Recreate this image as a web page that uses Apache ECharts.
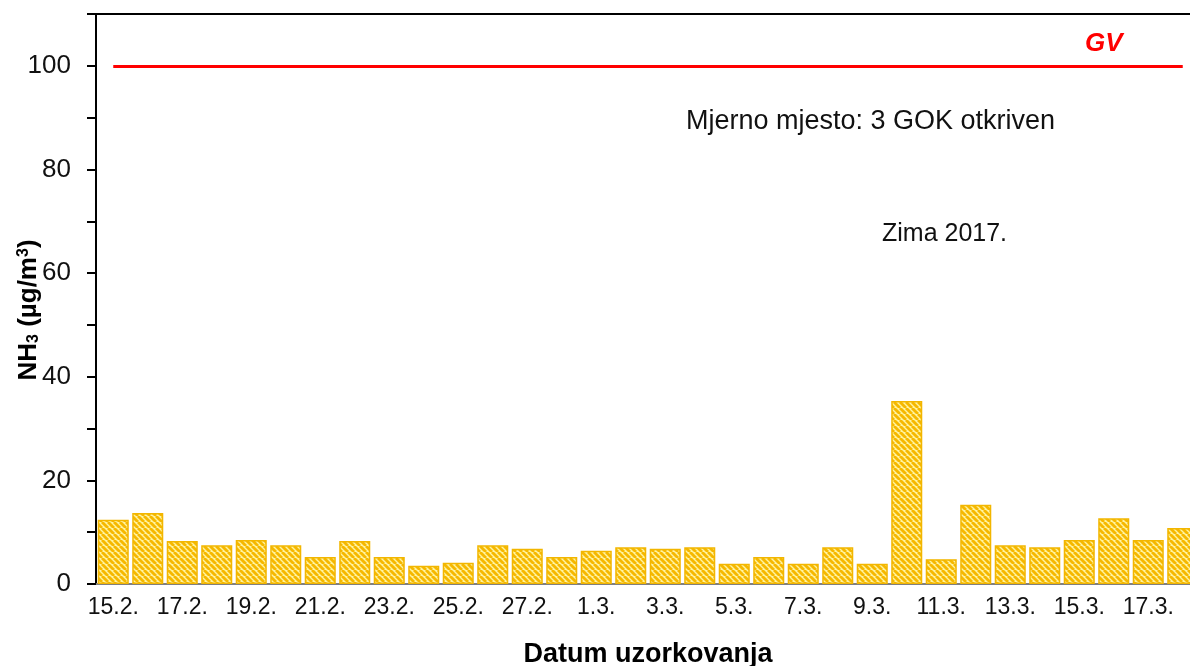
<!DOCTYPE html>
<html>
<head>
<meta charset="utf-8">
<script src="https://cdn.jsdelivr.net/npm/echarts@6/dist/echarts.min.js"></script>
<style>
  html, body { margin: 0; padding: 0; background: #fff; }
  #main { width: 1190px; height: 666px; }
</style>
</head>
<body>
<div id="main"></div>
<script>
// datumi uzorkovanja (zima 2017.)
var dates = ['15.2.', '16.2.', '17.2.', '18.2.', '19.2.', '20.2.', '21.2.', '22.2.', '23.2.', '24.2.',
  '25.2.', '26.2.', '27.2.', '28.2.', '1.3.', '2.3.', '3.3.', '4.3.', '5.3.', '6.3.', '7.3.', '8.3.',
  '9.3.', '10.3.', '11.3.', '12.3.', '13.3.', '14.3.', '15.3.', '16.3.', '17.3.', '18.3.'];
// NH3 koncentracije (µg/m3)
var nh3 = [12.4, 13.7, 8.3, 7.5, 8.5, 7.5, 5.2, 8.3, 5.2, 3.5,
  4.1, 7.5, 6.8, 5.2, 6.4, 7.1, 6.8, 7.1, 3.9, 5.2, 3.9, 7.1,
  3.9, 35.3, 4.8, 15.3, 7.5, 7.1, 8.5, 12.7, 8.5, 10.8];
// granicna vrijednost
var gv = 100;
var yTicks = [0, 20, 40, 60, 80, 100];

// srafura za stupce
function hatch() {
  var n = 6;
  var c = document.createElement('canvas');
  c.width = n; c.height = n;
  var ctx = c.getContext('2d');
  ctx.fillStyle = '#FFF3A0';
  ctx.fillRect(0, 0, n, n);
  ctx.strokeStyle = '#F6B800';
  ctx.lineWidth = 2.8;
  for (var k = -n; k <= n; k += n) {
    ctx.beginPath();
    ctx.moveTo(k, 0);
    ctx.lineTo(k + n, n);
    ctx.stroke();
  }
  return c;
}

var chart = echarts.init(document.getElementById('main'));
var font = 'Liberation Sans, Arial, sans-serif';

var option = {
  animation: false,
  backgroundColor: '#fff',
  grid: {
    left: 96,
    top: 14,
    bottom: 82,
    width: 1104,
    outerBoundsMode: 'none',
    containLabel: false,
    show: true,
    borderColor: '#000',
    borderWidth: 2,
    backgroundColor: 'transparent'
  },
  xAxis: {
    type: 'category',
    data: dates,
    name: 'Datum uzorkovanja',
    nameLocation: 'middle',
    nameGap: 57,
    nameMoveOverlap: false,
    nameTextStyle: { fontFamily: font, fontSize: 27, fontWeight: 'bold', color: '#000' },
    axisLine: { lineStyle: { color: '#808080', width: 2 } },
    axisTick: { length: 8, lineStyle: { color: '#808080', width: 2 } },
    axisLabel: { interval: 1, margin: 12, fontFamily: font, fontSize: 23, color: '#111' }
  },
  yAxis: {
    type: 'value',
    min: 0,
    max: 110,
    interval: 10,
    name: '{b|NH}{sub|3}{b| (µg/m}{sup|3}{b|)}',
    nameLocation: 'middle',
    nameRotate: 90,
    nameGap: 54,
    nameMoveOverlap: false,
    nameTextStyle: {
      padding: [0, 22, 0, 0],
      rich: {
        b: { fontFamily: font, fontSize: 26, fontWeight: 'bold', color: '#000' },
        sub: { fontFamily: font, fontSize: 16, fontWeight: 'bold', color: '#000', verticalAlign: 'bottom', padding: [10, 0, 0, 0] },
        sup: { fontFamily: font, fontSize: 16, fontWeight: 'bold', color: '#000', verticalAlign: 'top', padding: [0, 0, 10, 0] }
      }
    },
    splitLine: { show: false },
    axisLine: { show: true, lineStyle: { color: '#000', width: 2 } },
    axisTick: { show: true, length: 9, lineStyle: { color: '#000', width: 2 } },
    axisLabel: {
      margin: 25,
      fontFamily: font,
      fontSize: 26,
      color: '#111',
      formatter: function (v) { return yTicks.indexOf(v) >= 0 ? String(v) : ''; }
    }
  },
  graphic: [
    { type: 'text', left: 1085, top: 31, style: { text: 'GV', fill: '#FF0000', font: 'italic bold 26px ' + font } },
    { type: 'text', left: 686, top: 108, style: { text: 'Mjerno mjesto: 3 GOK otkriven', fill: '#111', font: '27px ' + font } },
    { type: 'text', left: 882, top: 222, style: { text: 'Zima 2017.', fill: '#111', font: '25px ' + font } }
  ],
  series: [
    {
      type: 'bar',
      data: nh3,
      barCategoryGap: '10%',
      itemStyle: {
        color: { image: hatch(), repeat: 'repeat' },
        borderColor: '#F2B600',
        borderWidth: 1.5
      },
      markLine: {
        silent: true,
        symbol: 'none',
        label: { show: false },
        lineStyle: { color: '#FF0000', width: 3, type: 'solid' },
        data: [[{ coord: [dates[0], gv] }, { coord: [dates[dates.length - 1], gv] }]]
      }
    }
  ]
};

chart.setOption(option);
</script>
</body>
</html>
